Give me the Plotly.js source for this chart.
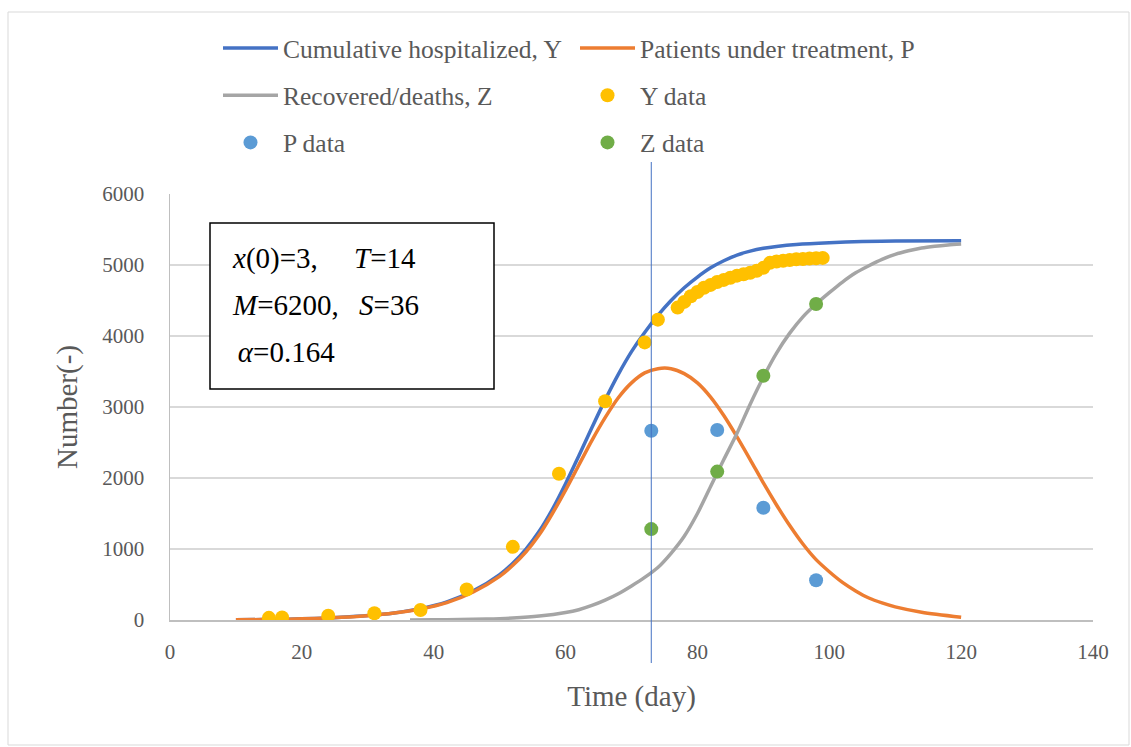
<!DOCTYPE html>
<html>
<head>
<meta charset="utf-8">
<script src="https://cdn.plot.ly/plotly-3.0.1.min.js"></script>
<style>
  html, body { margin: 0; padding: 0; background: #fff; }
  #chart { width: 1131px; height: 747px; }
</style>
</head>
<body>
<div id="chart"></div>
<script>
// Model curves
const yCurveX = [10, 14, 18, 22, 26, 30, 34, 38, 42, 46, 50, 52, 54, 56, 58, 60, 62, 64, 66, 68, 70, 72, 74, 76, 78, 80, 82, 84, 86, 88, 90, 92, 95, 100, 105, 110, 120];
const yCurveV = [3, 6, 12, 22, 38, 62, 100, 160, 255, 410, 640, 800, 1000, 1250, 1560, 1920, 2310, 2710, 3100, 3460, 3780, 4050, 4290, 4500, 4680, 4830, 4960, 5060, 5140, 5195, 5235, 5262, 5290, 5315, 5330, 5337, 5342];

const pCurveX = [10, 14, 18, 22, 26, 30, 34, 38, 42, 46, 50, 52, 54, 56, 58, 60, 62, 64, 66, 68, 70, 72, 74, 76, 78, 80, 82, 84, 86, 88, 90, 92, 94, 96, 98, 100, 102, 104, 106, 108, 110, 114, 120];
const pCurveV = [3, 6, 12, 22, 38, 61, 98, 155, 245, 395, 615, 770, 960, 1200, 1500, 1830, 2180, 2530, 2850, 3130, 3340, 3480, 3540, 3540, 3470, 3340, 3140, 2880, 2580, 2260, 1930, 1620, 1330, 1070, 850, 680, 530, 410, 310, 240, 185, 110, 40];

const zCurveX = [36.4, 40, 44, 48, 52, 56, 60, 62, 64, 66, 68, 70, 72, 74, 76, 78, 80, 82, 84, 86, 88, 90, 92, 94, 96, 98, 100, 102, 104, 106, 108, 110, 112, 114, 116, 118, 120];
const zCurveV = [0, 3, 7, 14, 28, 55, 105, 145, 205, 280, 370, 480, 600, 740, 940, 1180, 1500, 1880, 2260, 2630, 3040, 3420, 3760, 4040, 4270, 4450, 4610, 4760, 4890, 4990, 5080, 5150, 5200, 5240, 5265, 5283, 5296];

// Observed data
const yDataX = [15, 17, 24, 31, 38, 45, 52, 59, 66, 72, 74, 77, 78, 79, 80, 81, 82, 83, 84, 85, 86, 87, 88, 89, 90, 91, 92, 93, 94, 95, 96, 97, 98, 99];
const yDataV = [30, 35, 60, 95, 140, 430, 1030, 2060, 3080, 3910, 4230, 4400, 4480, 4560, 4620, 4680, 4720, 4760, 4790, 4820, 4850, 4870, 4890, 4920, 4960, 5030, 5050, 5060, 5070, 5080, 5085, 5090, 5095, 5100];

const pDataX = [73, 83, 90, 98];
const pDataV = [2665, 2675, 1580, 560];

const zDataX = [73, 83, 90, 98];
const zDataV = [1280, 2090, 3440, 4450];

const markerLineX = 73;

const xTicks = [0, 20, 40, 60, 80, 100, 120, 140];
const yTicks = [0, 1000, 2000, 3000, 4000, 5000, 6000];

const FONT = 'Liberation Serif, Times New Roman, serif';
const GREY_TXT = '#595959';

const traces = [
  {x: yCurveX, y: yCurveV, mode: 'lines', name: 'Cumulative hospitalized, Y',
   line: {color: '#4472C4', width: 3.5, shape: 'spline', smoothing: 0.8}, legend: 'legend', legendgroup: 'a'},
  {x: pCurveX, y: pCurveV, mode: 'lines', name: 'Patients under treatment, P',
   line: {color: '#ED7D31', width: 3.5, shape: 'spline', smoothing: 0.8}, legend: 'legend2', legendgroup: 'd'},
  {x: zCurveX, y: zCurveV, mode: 'lines', name: 'Recovered/deaths, Z',
   line: {color: '#A5A5A5', width: 3.5, shape: 'spline', smoothing: 0.8}, legend: 'legend', legendgroup: 'b'},
  {x: yDataX, y: yDataV, mode: 'markers', name: 'Y data',
   marker: {color: '#FFC000', size: 14}, legend: 'legend2', legendgroup: 'e'},
  {x: pDataX, y: pDataV, mode: 'markers', name: 'P data',
   marker: {color: '#5B9BD5', size: 14}, legend: 'legend', legendgroup: 'c'},
  {x: zDataX, y: zDataV, mode: 'markers', name: 'Z data',
   marker: {color: '#70AD47', size: 14}, legend: 'legend2', legendgroup: 'f'}
];

// paper coordinate helpers based on plot area (l=170, r=1093, t=194, b=620)
const W = 923, H = 426;
const px = v => (v - 170) / W;
const py = v => (620 - v) / H;

const legendCommon = {
  orientation: 'v', xanchor: 'left', yanchor: 'top',
  font: {family: FONT, size: 25.5, color: GREY_TXT},
  bgcolor: 'rgba(0,0,0,0)', borderwidth: 0,
  traceorder: 'grouped', tracegroupgap: 11, itemwidth: 55
};

const layout = {
  width: 1131, height: 747,
  margin: {l: 170, r: 38, t: 194, b: 127},
  paper_bgcolor: '#ffffff', plot_bgcolor: '#ffffff',
  font: {family: FONT, color: GREY_TXT},
  showlegend: true,
  legend: Object.assign({}, legendCommon, {x: px(218), y: py(25)}),
  legend2: Object.assign({}, legendCommon, {x: px(575), y: py(25)}),
  xaxis: {
    range: [0, 140], tickvals: xTicks, ticktext: xTicks.map(String),
    showgrid: false, zeroline: false,
    showline: true, linecolor: '#BFBFBF', linewidth: 1.5,
    ticks: 'outside', ticklen: 12, tickcolor: 'rgba(0,0,0,0)',
    tickfont: {family: FONT, size: 21, color: GREY_TXT},
    title: {text: 'Time (day)', font: {family: FONT, size: 29, color: GREY_TXT}, standoff: 23}
  },
  yaxis: {
    range: [0, 6000], tickvals: yTicks, ticktext: yTicks.map(String),
    showgrid: true, gridcolor: '#D9D9D9', gridwidth: 1.5,
    zeroline: false,
    showline: true, linecolor: '#BFBFBF', linewidth: 1.5,
    ticks: 'outside', ticklen: 20, tickcolor: 'rgba(0,0,0,0)',
    tickfont: {family: FONT, size: 21, color: GREY_TXT},
    title: {text: 'Number(-)', font: {family: FONT, size: 29, color: GREY_TXT}, standoff: 16}
  },
  shapes: [
    {type: 'line', xref: 'x', yref: 'paper', x0: markerLineX, x1: markerLineX,
     y0: py(663), y1: py(162), line: {color: '#4472C4', width: 1}, layer: 'above'},
    {type: 'rect', xref: 'paper', yref: 'paper', x0: px(210), x1: px(494), y0: py(389), y1: py(223),
     line: {color: '#000000', width: 1.5}, fillcolor: '#ffffff', layer: 'above'},
    {type: 'rect', xref: 'paper', yref: 'paper', x0: px(8), x1: px(1129), y0: py(745), y1: py(12),
     line: {color: '#D9D9D9', width: 1}, layer: 'below'}
  ],
  annotations: [
    {xref: 'paper', yref: 'paper', x: px(230), y: py(258), xanchor: 'left', yanchor: 'middle',
     showarrow: false, align: 'left', text: '<i>x</i>(0)=3,\u3000 <i>T</i>=14',
     font: {family: FONT, size: 29, color: '#000000'}},
    {xref: 'paper', yref: 'paper', x: px(230), y: py(305), xanchor: 'left', yanchor: 'middle',
     showarrow: false, align: 'left', text: '<i>M</i>=6200,\u2002\u2009<i>S</i>=36',
     font: {family: FONT, size: 29, color: '#000000'}},
    {xref: 'paper', yref: 'paper', x: px(230), y: py(352), xanchor: 'left', yanchor: 'middle',
     showarrow: false, align: 'left', text: '\u2009<i>α</i>=0.164',
     font: {family: FONT, size: 29, color: '#000000'}}
  ]
};

Plotly.newPlot('chart', traces, layout, {displayModeBar: false, staticPlot: true});
</script>
</body>
</html>
